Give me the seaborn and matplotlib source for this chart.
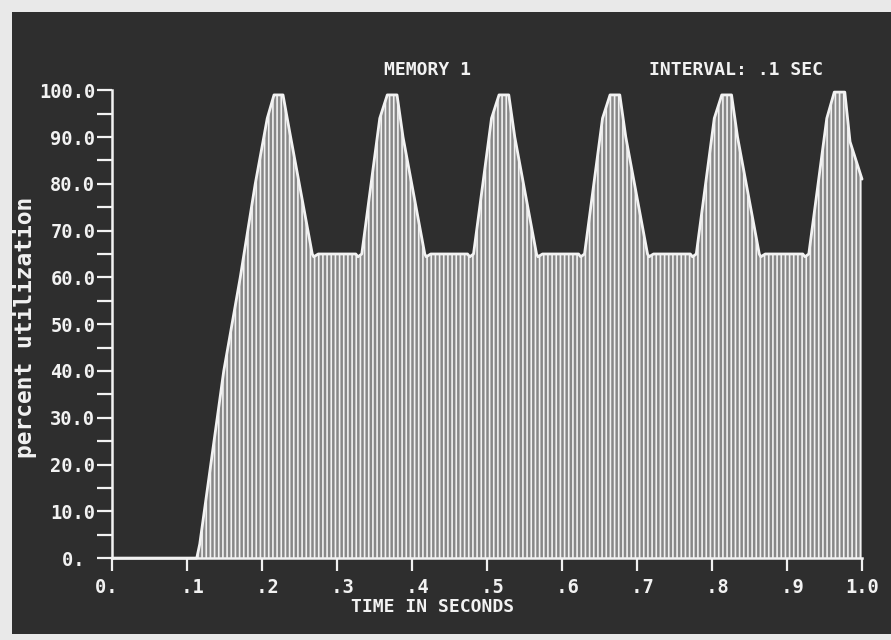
import numpy as np
import matplotlib
matplotlib.use("Agg")
import matplotlib.pyplot as plt
from matplotlib.patches import Rectangle
import seaborn as sns

# Courbe (points de cassure de l'enveloppe)
time_s = [0.0, 0.113, 0.117, 0.149, 0.171, 0.191, 0.207, 0.216, 0.228, 0.237, 0.267, 0.269, 0.275,
          0.325, 0.328, 0.333, 0.357, 0.367, 0.380, 0.388, 0.417, 0.419, 0.425,
          0.474, 0.477, 0.482, 0.506, 0.516, 0.529, 0.537, 0.566, 0.568, 0.574,
          0.622, 0.625, 0.630, 0.654, 0.664, 0.677, 0.685, 0.714, 0.716, 0.722,
          0.771, 0.774, 0.779, 0.803, 0.813, 0.826, 0.834, 0.863, 0.865, 0.871,
          0.921, 0.924, 0.929, 0.953, 0.963, 0.977, 0.984, 1.0]
utilization = [0, 0, 3, 40, 60, 80, 94, 99, 99, 91, 65, 64.4, 65,
               65, 64.4, 65, 94, 99, 99, 90, 65, 64.4, 65,
               65, 64.4, 65, 94, 99, 99, 90, 65, 64.4, 65,
               65, 64.4, 65, 94, 99, 99, 90, 65, 64.4, 65,
               65, 64.4, 65, 94, 99, 99, 90, 65, 64.4, 65,
               65, 64.4, 65, 94, 99.6, 99.6, 89, 81]

x_ticks = [0.0, 0.1, 0.2, 0.3, 0.4, 0.5, 0.6, 0.7, 0.8, 0.9, 1.0]
x_labels = ["0. ", " .1", " .2", " .3", " .4", " .5", " .6", " .7", " .8", " .9", "1.0"]
y_ticks = [0, 10, 20, 30, 40, 50, 60, 70, 80, 90, 100]
y_labels = ["0. ", "10.0", "20.0", "30.0", "40.0", "50.0", "60.0", "70.0", "80.0", "90.0", "100.0"]
y_minor = [5, 15, 25, 35, 45, 55, 65, 75, 85, 95]

BG = "#2e2e2e"
FG = "#f2f2f2"

sns.set_theme(style="ticks")
plt.rcParams["font.family"] = ["DejaVu Sans Mono", "DejaVu Sans"]
plt.rcParams["font.weight"] = "bold"
plt.rcParams["hatch.color"] = FG
plt.rcParams["hatch.linewidth"] = 1.2

fig = plt.figure(figsize=(8.91, 6.40), dpi=100, facecolor="#e9e9e9")
# cadre sombre de l'écran photographié
fig.patches.append(Rectangle((0.0135, 0.009), 0.99, 0.972, transform=fig.transFigure,
                             facecolor=BG, edgecolor="none", zorder=-10))
ax = fig.add_axes([0.1257, 0.128, 0.8418, 0.731])
ax.set_facecolor(BG)

# remplissage hachuré + contour blanc
ax.fill_between(time_s, utilization, 0, facecolor="#888888", edgecolor=FG,
                linewidth=0, hatch="||||", zorder=2)
sns.lineplot(x=time_s, y=utilization, ax=ax, color=FG, linewidth=2.0,
             zorder=3, clip_on=False)

ax.set_xlim(0, 1.0)
ax.set_ylim(0, 100)
for s in ["top", "right"]:
    ax.spines[s].set_visible(False)
for s in ["left", "bottom"]:
    ax.spines[s].set_color(FG)
    ax.spines[s].set_linewidth(1.8)
    ax.spines[s].set_zorder(4)

ax.set_xticks(x_ticks)
ax.set_xticklabels(x_labels, ha="center")
ax.set_yticks(y_ticks)
ax.set_yticklabels(y_labels)
ax.set_yticks(y_minor, minor=True)
ax.tick_params(axis="y", which="both", direction="out", length=11, width=1.6,
               color=FG, labelcolor=FG, labelsize=13.5, pad=1)
ax.tick_params(axis="x", which="major", direction="out", length=9, width=1.6,
               color=FG, labelcolor=FG, labelsize=13.5, pad=5)

ax.set_xlabel("TIME IN SECONDS", color=FG, fontsize=13, fontweight="bold", va="center")
ax.xaxis.set_label_coords(0.427, -0.105)
ax.set_ylabel("percent utilization", color=FG, fontsize=16.5, fontweight="bold", va="center")
ax.yaxis.set_label_coords(-0.116, 0.494)

ax.text(0.421, 1.043, "MEMORY 1", transform=ax.transAxes, color=FG,
        fontsize=13, fontweight="bold", ha="center", va="center")
ax.text(0.832, 1.043, "INTERVAL: .1 SEC", transform=ax.transAxes, color=FG,
        fontsize=13, fontweight="bold", ha="center", va="center")

plt.savefig("out.png", dpi=100, facecolor=fig.get_facecolor())
